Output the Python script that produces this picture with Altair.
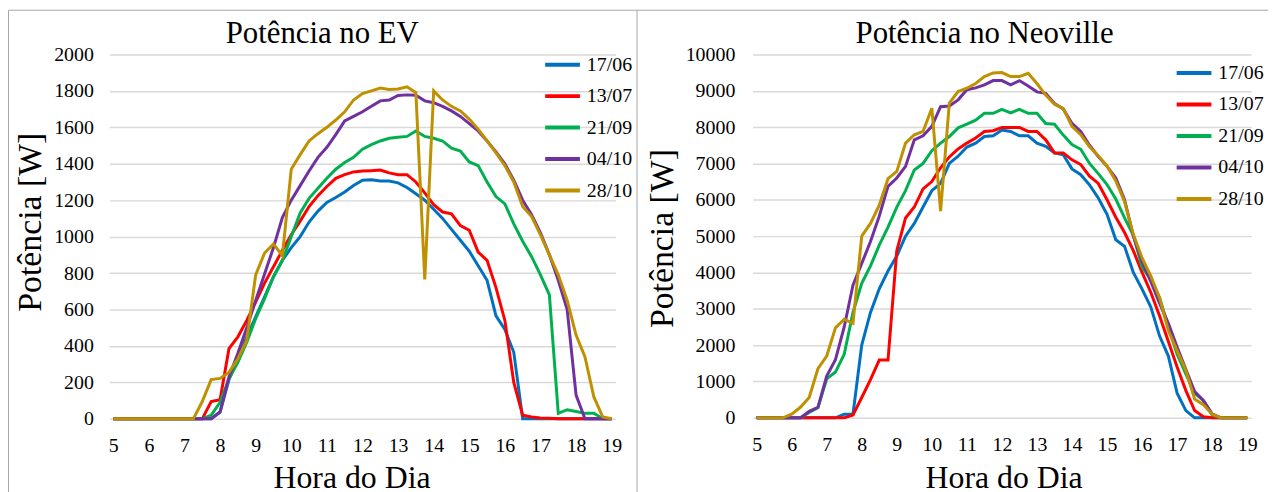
import altair as alt
import pandas as pd

FONT = "Liberation Serif"

hours = [5.0, 5.25, 5.5, 5.75, 6.0, 6.25, 6.5, 6.75, 7.0, 7.25, 7.5, 7.75,
         8.0, 8.25, 8.5, 8.75, 9.0, 9.25, 9.5, 9.75, 10.0, 10.25, 10.5, 10.75,
         11.0, 11.25, 11.5, 11.75, 12.0, 12.25, 12.5, 12.75, 13.0, 13.25, 13.5, 13.75,
         14.0, 14.25, 14.5, 14.75, 15.0, 15.25, 15.5, 15.75, 16.0, 16.25, 16.5, 16.75,
         17.0, 17.25, 17.5, 17.75, 18.0, 18.25, 18.5, 18.75, 19.0]

series = ["17/06", "13/07", "21/09", "04/10", "28/10"]
colors = ["#0070C0", "#FF0000", "#00B050", "#7030A0", "#BF9000"]

hour_ticks = [5, 6, 7, 8, 9, 10, 11, 12, 13, 14, 15, 16, 17, 18, 19]
ev_ticks = [0, 200, 400, 600, 800, 1000, 1200, 1400, 1600, 1800, 2000]
neo_ticks = [0, 1000, 2000, 3000, 4000, 5000, 6000, 7000, 8000, 9000, 10000]

titles = ["Potência no EV", "Potência no Neoville"]

# Potência no EV [W]
ev_1706 = [0, 0, 0, 0, 0, 0, 0, 0, 0, 0, 0, 0,
           35, 215, 330, 450, 560, 670, 780, 870, 940, 1000,
           1080, 1140, 1188, 1215, 1245, 1280, 1310, 1312, 1305, 1305,
           1295, 1270, 1235, 1200, 1150, 1100, 1040, 980, 920, 840,
           760, 565, 490, 365,
           0, 0, 0, 0, 0, 0, 0, 0, 0, 0, 0]
ev_1307 = [0, 0, 0, 0, 0, 0, 0, 0, 0, 0, 0,
           95, 105, 385, 450, 540, 640, 745, 835, 925, 1010,
           1085, 1165, 1225, 1275, 1320, 1340, 1355, 1360, 1362, 1365,
           1350, 1340, 1340, 1300, 1240, 1175, 1135, 1125, 1060, 1035,
           915, 870, 720, 540, 200, 20, 10, 5, 3,
           0, 0, 0, 0, 0, 0, 0]
ev_2109 = [0, 0, 0, 0, 0, 0, 0, 0, 0, 0, 0,
           20, 90, 220, 310, 420, 550, 660, 780, 870, 1000,
           1130, 1210, 1265, 1320, 1370, 1407, 1435, 1480, 1505, 1525,
           1540, 1545, 1550, 1580, 1550, 1540, 1525, 1485, 1470, 1410,
           1390, 1300, 1220, 1180, 1070, 975, 890, 790, 680, 30,
           50, 40, 30, 30,
           0, 0]
ev_0410 = [0, 0, 0, 0, 0, 0, 0, 0, 0, 0, 0, 0,
           40, 230, 360, 500, 650, 795, 940, 1105, 1200, 1280,
           1360, 1435, 1490, 1560, 1635, 1660, 1685, 1715, 1745, 1750,
           1775, 1778, 1776, 1745, 1735, 1715, 1690, 1660, 1620, 1580,
           1525, 1465, 1400, 1310, 1200, 1120, 1020, 900, 760, 600,
           130,
           0, 0, 0, 0]
ev_2810 = [0, 0, 0, 0, 0, 0, 0, 0, 0, 0,
           95, 215, 222, 255, 330, 430, 790, 910, 960, 895,
           1370, 1450, 1525, 1565, 1600, 1640, 1685, 1750, 1785, 1800,
           1815, 1808, 1810, 1822, 1790, 765, 1800, 1750, 1715, 1690,
           1645, 1590, 1525, 1460, 1390, 1300, 1165, 1110, 1010, 900,
           790, 650, 460, 340, 120, 10, 0]

# Potência no Neoville [W]
neo_1706 = [0, 0, 0, 0, 0, 0, 0, 0, 0, 0,
            100, 100, 2000, 2900, 3550, 4040, 4450, 5000, 5350, 5800,
            6250, 6450, 7000, 7200, 7450, 7560, 7740, 7760, 7920, 7880,
            7760, 7760, 7560, 7470, 7290, 7240, 6850, 6690, 6410, 6050,
            5600, 4900, 4720, 4000, 3540, 3050, 2250, 1700, 680, 200,
            0, 0, 0, 0, 0, 0, 0]
neo_1307 = [0, 0, 0, 0, 0, 0, 0, 0, 0, 0, 0,
            80, 560, 1050, 1590, 1590, 4600, 5500, 5800, 6300, 6500,
            6880, 7180, 7400, 7560, 7700, 7880, 7900, 7990, 7990, 7990,
            7880, 7880, 7650, 7290, 7290, 7100, 6970, 6650, 6450, 6000,
            5520, 5100, 4600, 4000, 3450, 2800, 2100, 1400, 750, 200,
            30,
            0, 0, 0, 0, 0]
neo_2109 = [0, 0, 0, 0, 0, 0,
            150, 280, 1070, 1260, 1750, 2900, 3700, 4180, 4750, 5250,
            5800, 6250, 6820, 7000, 7350, 7560, 7740, 7980, 8080, 8190,
            8380, 8380, 8490, 8390, 8490, 8380, 8380, 8100, 8080, 7780,
            7520, 7390, 7000, 6720, 6420, 6020, 5500, 5020, 4150, 3800,
            3300, 2500, 1750, 1200, 680, 470, 80,
            0, 0, 0, 0]
neo_0410 = [0, 0, 0, 0, 0, 0,
            180, 290, 1150, 1600, 2500, 3650, 4250, 4850, 5550, 6370,
            6600, 6920, 7650, 7760, 8020, 8560, 8580, 8750, 9030, 9080,
            9160, 9280, 9280, 9160, 9280, 9130, 8970, 8930, 8650, 8500,
            8100, 7880, 7500, 7190, 6920, 6600, 6000, 5000, 4300, 3750,
            3150, 2600, 1950, 1330, 720, 475, 110,
            0, 0, 0, 0]
neo_2810 = [0, 0, 0, 0,
            100, 290, 560, 1350, 1700, 2480, 2710, 2600, 5000, 5350,
            5850, 6580, 6780, 7560, 7790, 7880, 8520, 5690, 8660, 8980,
            9070, 9200, 9390, 9490, 9500, 9390, 9390, 9480, 9200, 8880,
            8630, 8510, 8020, 7790, 7460, 7210, 6930, 6520, 5950, 5050,
            4400, 3900, 3300, 2400, 1850, 1300, 520, 360, 100,
            0, 0, 0, 0]


def long_df(value_lists):
    rows = []
    for name, vals in zip(series, value_lists):
        for h, v in zip(hours, vals):
            rows.append({"hora": h, "potencia": v, "dia": name})
    return pd.DataFrame(rows)


df_ev = long_df([ev_1706, ev_1307, ev_2109, ev_0410, ev_2810])
df_neo = long_df([neo_1706, neo_1307, neo_2109, neo_0410, neo_2810])

FRAME = "#a6a6a6"


def one_row(**kw):
    d = {"k": 0}
    d.update(kw)
    return alt.Data(values=[d])


def panel(df, title, yticks, w, h, tx, ty, ytx, yty, ylabpad, xtx, xty, lx, ly, rules):
    lines = alt.Chart(df).mark_line(strokeWidth=3).encode(
        x=alt.X("hora:Q",
                scale=alt.Scale(domain=[4.888, 19.112], nice=False, zero=False),
                axis=alt.Axis(values=hour_ticks, title="Hora do Dia", grid=False,
                              ticks=False, domain=False, labelFlush=False,
                              labelPadding=17, labelFont=FONT, labelFontSize=20,
                              labelColor="#000000", titleFont=FONT, titleFontSize=32,
                              titleFontWeight="normal", titleColor="#000000",
                              titleX=xtx, titleY=xty, titleAlign="center",
                              titleBaseline="alphabetic")),
        y=alt.Y("potencia:Q",
                scale=alt.Scale(domain=[yticks[0], yticks[-1]], nice=False),
                axis=alt.Axis(values=yticks, format="d", title="Potência [W]",
                              grid=True, gridColor="#d9d9d9", gridWidth=1.5,
                              ticks=False, domain=False, labelPadding=ylabpad,
                              labelFont=FONT, labelFontSize=20, labelColor="#000000",
                              titleFont=FONT, titleFontSize=34, titleFontWeight="normal",
                              titleColor="#000000", titleX=ytx, titleY=yty,
                              titleAlign="center", titleBaseline="middle")),
        color=alt.Color("dia:N", sort=series,
                        scale=alt.Scale(domain=series, range=colors),
                        legend=alt.Legend(title=None, orient="none", legendX=lx, legendY=ly,
                                          symbolType="stroke", symbolSize=1225,
                                          symbolStrokeWidth=4, labelFont=FONT,
                                          labelFontSize=20, labelColor="#000000",
                                          labelOffset=5, rowPadding=9.7, clipHeight=22,
                                          padding=0)),
    )
    title_mark = alt.Chart(one_row(t=title)).mark_text(
        font=FONT, fontSize=31, color="#000000", align="center", baseline="alphabetic"
    ).encode(text="t:N", x=alt.value(tx), y=alt.value(ty))
    layers = [lines, title_mark]
    for (x1, x2, y1, y2) in rules:
        enc = {"x": alt.value(x1), "y": alt.value(y1)}
        if x2 is not None:
            enc["x2"] = alt.value(x2)
        if y2 is not None:
            enc["y2"] = alt.value(y2)
        layers.append(alt.Chart(one_row()).mark_rule(color=FRAME, strokeWidth=1).encode(**enc))
    return alt.layer(*layers).properties(width=w, height=h)


left = panel(df_ev, titles[0], ev_ticks, 510, 367,
             tx=214.5, ty=-11, ytx=-79.4, yty=168.5, ylabpad=16,
             xtx=244, xty=69, lx=437, ly=-0.7,
             rules=[(-101.5, 531.5, -44.5, None),
                    (-101.5, None, -44.5, 445),
                    (531.5, None, -44.5, 445)])

right = panel(df_neo, titles[1], neo_ticks, 502, 366,
              tx=233.5, ty=-11, ytx=-90.5, yty=185, ylabpad=18,
              xtx=252.7, xty=70, lx=425, ly=7.7,
              rules=[(-116.5, 519, -44.5, None)])

chart = alt.hconcat(left, right, spacing=138).properties(
    bounds="flush", padding=0,
    autosize=alt.AutoSizeParams(type="pad"),
).resolve_legend(color="independent").configure_view(stroke=None)

chart.save("out.html", embed_options={"renderer": "svg", "actions": False})
